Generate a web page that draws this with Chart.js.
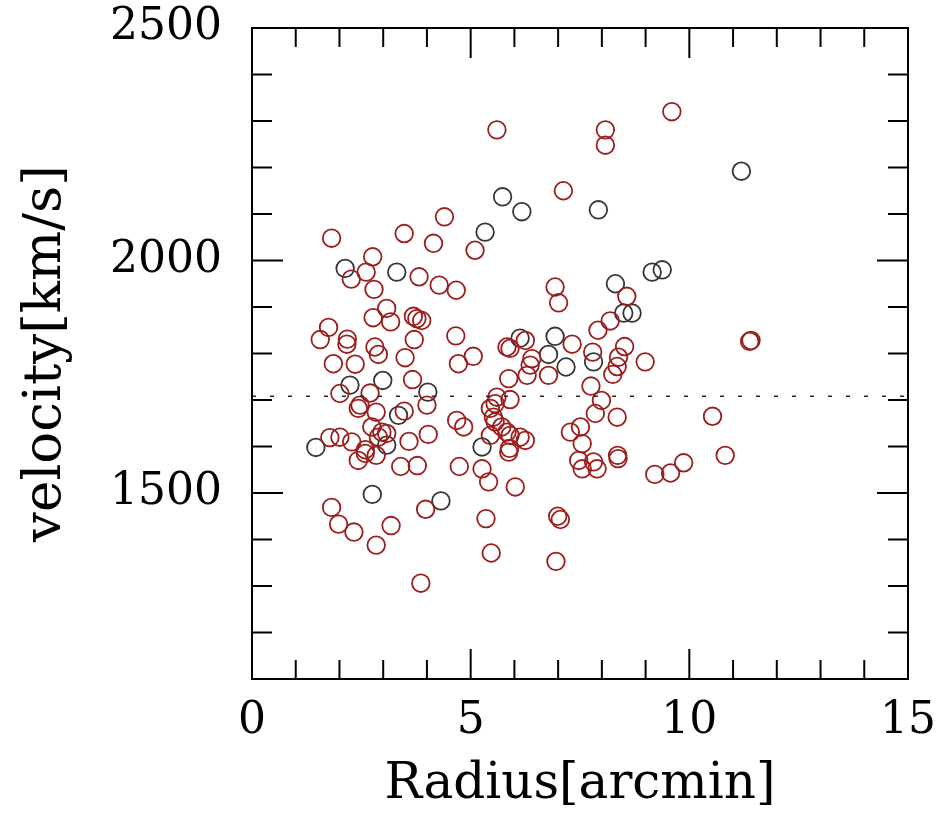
<!DOCTYPE html>
<html>
<head>
<meta charset="utf-8">
<script src="https://cdn.jsdelivr.net/npm/chart.js@4.4.1/dist/chart.umd.min.js"></script>
<style>
	html, body { margin: 0; padding: 0; background: #fff; }
	#wrap { width: 942px; height: 815px; }
</style>
</head>
<body>
<div id="wrap"><canvas id="velocityChart"></canvas></div>
<script>
"use strict";

// members (red) : radius [arcmin], velocity [km/s]
const memberRadius = [
	9.60, 5.60, 8.08, 8.08, 7.12, 4.40, 3.48, 1.82, 4.15, 5.10,
	2.76, 2.61, 2.27, 3.82, 4.28, 4.67, 2.79, 3.08, 2.77, 3.17,
	3.69, 3.77, 3.88, 1.75, 1.56, 2.18, 2.17, 2.81, 2.89, 3.71,
	4.66, 3.50, 1.86, 2.36, 4.72, 5.06, 3.67, 2.01, 2.70, 4.00,
	2.47, 2.43, 2.84, 3.48, 4.68, 4.84, 2.74, 2.97, 3.08, 2.89,
	4.03, 1.78, 2.01, 2.28, 3.59, 2.59, 2.43, 2.59, 2.84, 3.40,
	3.78, 4.74, 1.82, 1.98, 2.33, 3.18, 2.84, 3.97, 3.86, 5.87,
	5.26, 5.41, 6.02, 5.35, 6.99, 7.05, 5.47, 6.95, 7.47, 7.55,
	7.81, 7.89, 8.37, 9.21, 9.57, 9.87, 10.82, 11.41, 11.38, 10.53,
	6.93, 7.01, 8.57, 8.19, 7.91, 7.32, 6.25, 5.83, 5.90, 7.79,
	8.52, 8.38, 8.35, 8.25, 8.99, 6.40, 6.36, 6.78, 6.29, 5.87,
	7.75, 7.99, 8.35, 5.60, 5.56, 5.45, 5.90, 5.52, 5.56, 5.71,
	5.83, 5.90, 6.13, 6.25, 5.45, 5.89, 7.28, 7.51, 7.55, 7.85,
	8.36
];
const memberVelocity = [
	2320, 2281, 2281, 2248, 2150, 2094, 2058, 2048, 2037, 2022,
	2008, 1975, 1960, 1965, 1947, 1936, 1938, 1897, 1877, 1868,
	1880, 1875, 1871, 1856, 1830, 1831, 1820, 1814, 1798, 1830,
	1838, 1791, 1778, 1777, 1778, 1794, 1744, 1714, 1715, 1689,
	1689, 1682, 1674, 1676, 1656, 1642, 1642, 1631, 1628, 1620,
	1626, 1619, 1620, 1610, 1611, 1593, 1570, 1585, 1581, 1557,
	1559, 1557, 1469, 1433, 1416, 1430, 1388, 1465, 1306, 1588,
	1552, 1524, 1513, 1445, 1450, 1443, 1371, 1353, 1570, 1552,
	1567, 1552, 1574, 1540, 1543, 1565, 1581, 1828, 1826, 1665,
	1943, 1909, 1923, 1870, 1850, 1820, 1828, 1814, 1811, 1803,
	1815, 1792, 1772, 1755, 1782, 1789, 1775, 1753, 1753, 1746,
	1730, 1699, 1663, 1706, 1692, 1682, 1701, 1663, 1653, 1642,
	1631, 1624, 1620, 1613, 1624, 1596, 1631, 1642, 1606, 1671,
	1581
];

// other galaxies (dark) : radius [arcmin], velocity [km/s]
const otherRadius = [
	11.19, 5.73, 6.17, 7.92, 5.33, 2.13, 3.31, 9.15, 9.38, 8.31,
	8.50, 8.69, 6.93, 6.78, 7.81, 7.18, 2.99, 2.24, 4.02, 3.35,
	1.46, 5.26, 2.75, 4.32, 3.08, 6.13
];
const otherVelocity = [
	2192, 2137, 2105, 2109, 2061, 1983, 1975, 1975, 1980, 1950,
	1887, 1887, 1837, 1798, 1782, 1771, 1742, 1732, 1717, 1667,
	1598, 1599, 1497, 1483, 1603, 1833
];

const meanVelocity = 1708;
const radiusRange = [0, 15];
const velocityRange = [1100, 2500];
const radiusLabels = [0, 5, 10, 15];
const velocityLabels = [1500, 2000, 2500];

const serif = "'DejaVu Serif', 'Liberation Serif', serif";

const toPoints = (xs, ys) => xs.map((x, index) => ({ x: x, y: ys[index] }));

// pgplot style frame: box on all four sides, ticks pointing inwards
const inwardTicksPlugin = {
	id: "inwardTicks",
	afterDatasetsDraw: chart => {
		let ctx = chart.ctx;
		let area = chart.chartArea;
		let xScale = chart.scales.x;
		let yScale = chart.scales.y;
		ctx.save();
		ctx.strokeStyle = "#000";
		ctx.lineWidth = 2;
		ctx.beginPath();
		for (let value = radiusRange[0] + 1; value < radiusRange[1]; value++) {
			let px = xScale.getPixelForValue(value);
			let length = value % 5 === 0 ? 30 : 19;
			ctx.moveTo(px, area.bottom);
			ctx.lineTo(px, area.bottom - length);
			ctx.moveTo(px, area.top);
			ctx.lineTo(px, area.top + length);
		}
		for (let value = velocityRange[0] + 100; value < velocityRange[1]; value += 100) {
			let py = yScale.getPixelForValue(value);
			let length = value % 500 === 0 ? 31 : 20;
			ctx.moveTo(area.left, py);
			ctx.lineTo(area.left + length, py);
			ctx.moveTo(area.right, py);
			ctx.lineTo(area.right - length, py);
		}
		ctx.stroke();
		ctx.strokeRect(area.left, area.top, area.right - area.left, area.bottom - area.top);
		ctx.restore();
	}
};

new Chart(document.querySelector("canvas#velocityChart"), {
	type: "scatter",
	data: {
		datasets: [{
			label: "mean",
			type: "line",
			data: [{ x: radiusRange[0], y: meanVelocity }, { x: radiusRange[1], y: meanVelocity }],
			borderColor: "#3a2020",
			borderWidth: 1.6,
			borderDash: [4, 14],
			pointRadius: 0,
			fill: false
		}, {
			label: "members",
			data: toPoints(memberRadius, memberVelocity),
			borderColor: "#9c1d1d",
			backgroundColor: "rgba(0, 0, 0, 0)",
			borderWidth: 1.8,
			pointRadius: 8.8
		}, {
			label: "others",
			data: toPoints(otherRadius, otherVelocity),
			borderColor: "#353535",
			backgroundColor: "rgba(0, 0, 0, 0)",
			borderWidth: 1.8,
			pointRadius: 8.8
		}]
	},
	options: {
		responsive: true,
		maintainAspectRatio: false,
		animation: false,
		layout: {
			padding: { top: 28, right: 34, left: 0, bottom: 0 }
		},
		scales: {
			x: {
				type: "linear",
				min: radiusRange[0],
				max: radiusRange[1],
				afterFit: scale => {
					scale.height = 136;
					scale.paddingLeft = 0;
					scale.paddingRight = 0;
				},
				afterBuildTicks: scale => { scale.ticks = radiusLabels.map(value => ({ value: value })); },
				grid: { display: false, drawTicks: false },
				border: { display: false },
				ticks: {
					color: "#000",
					padding: 16,
					maxRotation: 0,
					callback: value => String(value),
					font: { family: serif, size: 44 }
				},
				title: {
					display: true,
					text: "Radius[arcmin]",
					color: "#000",
					padding: { top: 0, bottom: 0 },
					font: { family: serif, size: 50 }
				}
			},
			y: {
				type: "linear",
				min: velocityRange[0],
				max: velocityRange[1],
				afterFit: scale => {
					scale.width = 252;
					scale.paddingTop = 0;
					scale.paddingBottom = 0;
				},
				afterBuildTicks: scale => { scale.ticks = velocityLabels.map(value => ({ value: value })); },
				grid: { display: false, drawTicks: false },
				border: { display: false },
				ticks: {
					color: "#000",
					padding: 30,
					callback: value => String(value),
					font: { family: serif, size: 44 }
				},
				title: {
					display: true,
					text: "velocity[km/s]",
					color: "#000",
					padding: { top: 14, bottom: 0 },
					font: { family: serif, size: 53 }
				}
			}
		},
		plugins: {
			legend: { display: false },
			tooltip: { enabled: false }
		}
	},
	plugins: [inwardTicksPlugin]
});
</script>
</body>
</html>
